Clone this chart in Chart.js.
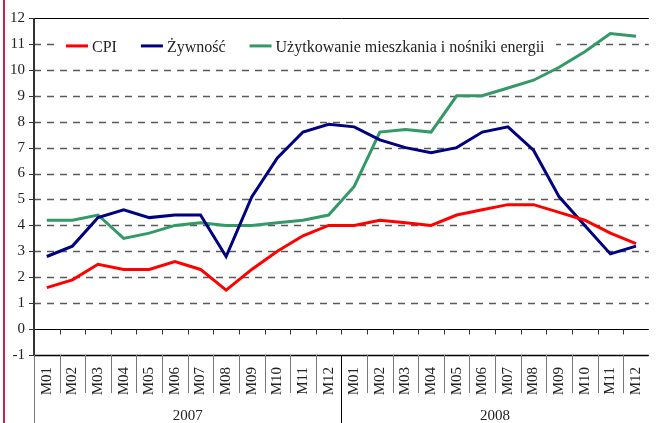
<!DOCTYPE html>
<html>
<head>
<meta charset="utf-8">
<script src="https://cdn.jsdelivr.net/npm/chart.js@4/dist/chart.umd.min.js"></script>
<style>
  html, body { margin: 0; padding: 0; background: #fff; overflow: hidden; }
  #wrap { position: relative; width: 666px; height: 423px; }
  #edge { position: absolute; left: 3px; top: 0; width: 2px; height: 423px; background: #d0204a; }
</style>
</head>
<body>
<div id="wrap">
  <canvas id="cpi_chart"></canvas>
  <div id="edge"></div>
</div>
<script>
// dane
const months = ['M01', 'M02', 'M03', 'M04', 'M05', 'M06', 'M07', 'M08', 'M09', 'M10', 'M11', 'M12'];
const years = ['2007', '2008'];
const cpi = [1.6, 1.9, 2.5, 2.3, 2.3, 2.6, 2.3, 1.5, 2.3, 3.0, 3.6, 4.0,
	4.0, 4.2, 4.1, 4.0, 4.4, 4.6, 4.8, 4.8, 4.5, 4.2, 3.7, 3.3];
const zywnosc = [2.8, 3.2, 4.3, 4.6, 4.3, 4.4, 4.4, 2.8, 5.1, 6.6, 7.6, 7.9,
	7.8, 7.3, 7.0, 6.8, 7.0, 7.6, 7.8, 6.9, 5.1, 4.0, 2.9, 3.2];
const uzytkowanie = [4.2, 4.2, 4.4, 3.5, 3.7, 4.0, 4.1, 4.0, 4.0, 4.1, 4.2, 4.4,
	5.5, 7.6, 7.7, 7.6, 9.0, 9.0, 9.3, 9.6, 10.1, 10.7, 11.4, 11.3];
const yMin = -1;
const yMax = 12;

const labels = years.flatMap(() => months);
const FONT = '"Liberation Serif", "DejaVu Serif", serif';
const TXT = '#222';

// osie, siatka, legenda i opisy lat
const decor = {
	id: 'decor',
	beforeDatasetsDraw(chart) {
		const c = chart.ctx, a = chart.chartArea, y = chart.scales.y;
		c.save();
		c.strokeStyle = '#5a5a5a';
		c.lineWidth = 1.5;
		c.setLineDash([7, 6]);
		y.ticks.forEach(t => {
			if (t.value <= 0 || t.value >= yMax) return;
			const py = Math.round(y.getPixelForValue(t.value)) + 0.5;
			c.beginPath();
			c.moveTo(a.left, py);
			c.lineTo(a.right, py);
			c.stroke();
		});
		c.setLineDash([]);
		// tlo legendy
		c.fillStyle = '#fff';
		c.fillRect(a.left + 21, y.getPixelForValue(11) - 9, 501, 20);
		c.restore();
	},
	afterDatasetsDraw(chart) {
		const c = chart.ctx, a = chart.chartArea, x = chart.scales.x, y = chart.scales.y;
		const step = x.getPixelForValue(1) - x.getPixelForValue(0);
		const y0 = Math.round(y.getPixelForValue(0)) + 0.5;
		const yTop = Math.round(y.getPixelForValue(yMax)) + 0.5;
		const yBot = Math.round(y.getPixelForValue(yMin)) + 0.5;
		c.save();
		c.strokeStyle = '#000';
		c.lineWidth = 1;
		[yTop, y0].forEach(py => {
			c.beginPath(); c.moveTo(a.left, py); c.lineTo(a.right, py); c.stroke();
		});
		c.lineWidth = 1.5;
		c.beginPath(); c.moveTo(a.left, yBot); c.lineTo(a.right, yBot); c.stroke();
		// znaczniki na osi X przy zerze
		c.lineWidth = 1;
		c.strokeStyle = '#333';
		for (let i = 1; i < labels.length; i++) {
			const px = Math.round(x.getPixelForValue(i) - step / 2) + 0.5;
			c.beginPath(); c.moveTo(px, y0); c.lineTo(px, y0 + 5); c.stroke();
		}
		// znaczniki na osi Y
		y.ticks.forEach(t => {
			const py = Math.round(y.getPixelForValue(t.value)) + 0.5;
			c.beginPath(); c.moveTo(a.left - 5, py); c.lineTo(a.left, py); c.stroke();
		});
		// os Y
		c.strokeStyle = '#333';
		c.lineWidth = 2;
		c.beginPath(); c.moveTo(a.left, yTop - 0.5); c.lineTo(a.left, yBot + 0.5); c.stroke();
		c.restore();
	},
	afterDraw(chart) {
		const c = chart.ctx, a = chart.chartArea, x = chart.scales.x, y = chart.scales.y;
		const step = x.getPixelForValue(1) - x.getPixelForValue(0);
		const yBot = Math.round(y.getPixelForValue(yMin));
		const H = chart.height;
		c.save();
		// pionowe linie w obszarze etykiet
		c.lineWidth = 1;
		c.strokeStyle = '#777';
		c.beginPath(); c.moveTo(a.left + 0.5, yBot); c.lineTo(a.left + 0.5, H); c.stroke();
		for (let i = 1; i < labels.length; i++) {
			const px = Math.round(x.getPixelForValue(i) - step / 2) + 0.5;
			const yearEdge = i % months.length === 0;
			c.strokeStyle = yearEdge ? '#000' : '#777';
			c.beginPath(); c.moveTo(px, yBot); c.lineTo(px, yearEdge ? H : yBot + 38); c.stroke();
		}
		// lata
		c.fillStyle = TXT;
		c.font = '15px ' + FONT;
		c.textAlign = 'center';
		c.textBaseline = 'alphabetic';
		years.forEach((yr, k) => {
			const first = k * months.length;
			const mid = (x.getPixelForValue(first) + x.getPixelForValue(first + months.length - 1)) / 2;
			c.fillText(yr, mid, 420);
		});
		// legenda
		c.font = '16px ' + FONT;
		const ly = y.getPixelForValue(11) + 2;
		let lx = a.left + 32;
		c.textAlign = 'left';
		chart.data.datasets.forEach(ds => {
			c.strokeStyle = ds.borderColor;
			c.lineWidth = 3;
			c.beginPath(); c.moveTo(lx, ly); c.lineTo(lx + 22, ly); c.stroke();
			c.fillText(ds.label, lx + 26, ly + 6);
			lx += 26 + c.measureText(ds.label).width + 24;
		});
		c.restore();
	}
};

const ctx = document.getElementById('cpi_chart').getContext('2d');
const cpi_chart = new Chart(ctx, {
	type: 'line',
	data: {
		labels: labels,
		datasets: [{
			label: 'CPI',
			data: cpi,
			borderColor: '#ff0000',
			borderWidth: 3
		}, {
			label: 'Żywność',
			data: zywnosc,
			borderColor: '#000080',
			borderWidth: 3
		}, {
			label: 'Użytkowanie mieszkania i nośniki energii',
			data: uzytkowanie,
			borderColor: '#339966',
			borderWidth: 3
		}]
	},
	options: {
		responsive: true,
		maintainAspectRatio: false,
		animation: false,
		elements: {
			point: { radius: 0 },
			line: { tension: 0, borderCapStyle: 'butt', borderJoinStyle: 'miter' }
		},
		layout: { padding: { top: 17, left: 0, right: 0, bottom: 0 } },
		plugins: {
			legend: { display: false },
			tooltip: { enabled: false }
		},
		scales: {
			x: {
				type: 'category',
				offset: true,
				grid: { display: false, drawTicks: false, offset: true },
				border: { display: false },
				ticks: {
					autoSkip: false,
					minRotation: 90,
					maxRotation: 90,
					padding: 12,
					color: TXT,
					font: { family: FONT, size: 15 }
				},
				afterFit(scale) { scale.height = 68; }
			},
			y: {
				min: yMin,
				max: yMax,
				grid: { display: false, drawTicks: false },
				border: { display: false },
				ticks: {
					stepSize: 1,
					padding: 9,
					color: TXT,
					font: { family: FONT, size: 15 }
				},
				afterFit(scale) { scale.width = 34; }
			}
		}
	},
	plugins: [decor]
});
</script>
</body>
</html>
